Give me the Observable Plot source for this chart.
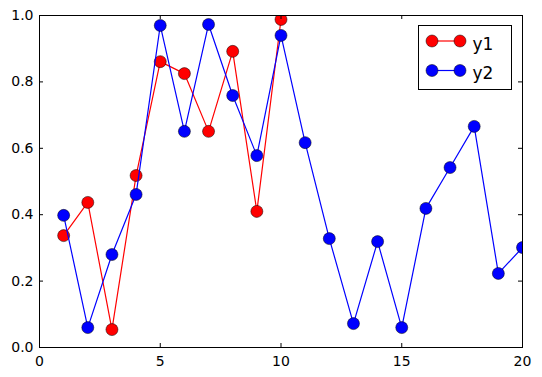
<!DOCTYPE html>
<html>
<head>
<meta charset="utf-8">
<script src="https://cdn.jsdelivr.net/npm/d3@7"></script>
<script src="https://cdn.jsdelivr.net/npm/@observablehq/plot@0.6"></script>
<style>
  html, body { margin: 0; padding: 0; background: #fff; }
  #chart { width: 542px; height: 377px; }
</style>
</head>
<body>
<div id="chart"></div>
<script>
const x1 = [1, 2, 3, 4, 5, 6, 7, 8, 9, 10];
const y1 = [0.337, 0.437, 0.054, 0.518, 0.861, 0.825, 0.651, 0.892, 0.410, 0.988];
const x2 = [1, 2, 3, 4, 5, 6, 7, 8, 9, 10, 11, 12, 13, 14, 15, 16, 17, 18, 19, 20];
const y2 = [0.398, 0.060, 0.280, 0.461, 0.970, 0.651, 0.973, 0.759, 0.578, 0.940,
            0.617, 0.328, 0.072, 0.319, 0.060, 0.419, 0.542, 0.666, 0.223, 0.301];
const xTicks = [0, 5, 10, 15, 20];
const yTicks = [0, 0.2, 0.4, 0.6, 0.8, 1.0];
const seriesNames = ["y1", "y2"];
const seriesColors = ["#ff0000", "#0000ff"];

const d1 = x1.map((x, i) => ({x, y: y1[i]}));
const d2 = x2.map((x, i) => ({x, y: y2[i]}));

const W = 542, H = 377, mL = 39, mR = 20, mT = 15, mB = 30;
const fw = W - mL - mR, fh = H - mT - mB, tl = 4;

const plot = Plot.plot({
  width: W, height: H,
  marginLeft: mL, marginRight: mR, marginTop: mT, marginBottom: mB,
  style: {fontFamily: "DejaVu Sans", fontSize: "14px", background: "#fff", color: "#000"},
  x: {domain: [0, 20], label: null},
  y: {domain: [0, 1], label: null},
  marks: [
    Plot.axisX({ticks: xTicks, tickSize: 0, tickPadding: 9, fontSize: 14, label: null, tickFormat: d => String(d)}),
    Plot.axisY({ticks: yTicks, tickSize: 0, tickPadding: 6, fontSize: 14, label: null, tickFormat: d3.format(".1f")}),
    Plot.line(d1, {x: "x", y: "y", stroke: seriesColors[0], strokeWidth: 1.2, clip: true}),
    Plot.dot(d1, {x: "x", y: "y", r: 6, fill: seriesColors[0], stroke: "#000", strokeWidth: 0.5, clip: true}),
    Plot.line(d2, {x: "x", y: "y", stroke: seriesColors[1], strokeWidth: 1.2, clip: true}),
    Plot.dot(d2, {x: "x", y: "y", r: 6, fill: seriesColors[1], stroke: "#000", strokeWidth: 0.5, clip: true}),
    Plot.ruleX(xTicks, {x: d => d, insetTop: fh - tl, stroke: "#000"}),
    Plot.ruleX(xTicks, {x: d => d, insetBottom: fh - tl, stroke: "#000"}),
    Plot.ruleY(yTicks, {y: d => d, insetRight: fw - tl, stroke: "#000"}),
    Plot.ruleY(yTicks, {y: d => d, insetLeft: fw - tl, stroke: "#000"}),
    Plot.frame({stroke: "#000", strokeWidth: 1})
  ]
});
document.getElementById("chart").appendChild(plot);

// Legend (inside the axes, top right)
const svg = d3.select(plot);
const lg = svg.append("g");
lg.append("rect").attr("x", 418.5).attr("y", 25.5).attr("width", 93).attr("height", 64)
  .attr("fill", "#fff").attr("stroke", "#000").attr("stroke-width", 1);
seriesNames.forEach((name, i) => {
  const cy = 41 + i * 29.5;
  lg.append("line").attr("x1", 432).attr("x2", 460).attr("y1", cy).attr("y2", cy)
    .attr("stroke", seriesColors[i]).attr("stroke-width", 1.2);
  [432, 460].forEach(cx => lg.append("circle").attr("cx", cx).attr("cy", cy).attr("r", 6)
    .attr("fill", seriesColors[i]).attr("stroke", "#000").attr("stroke-width", 0.5));
  lg.append("text").attr("x", 483).attr("y", cy + 8.5).attr("font-size", 17)
    .attr("font-family", "DejaVu Sans").attr("fill", "#000").text(name);
});
</script>
</body>
</html>
